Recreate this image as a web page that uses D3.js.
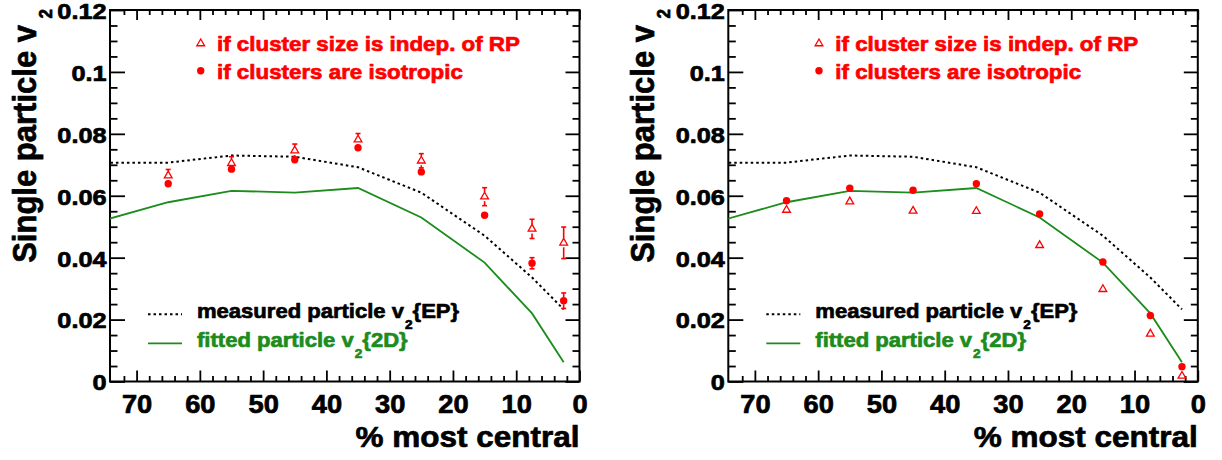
<!DOCTYPE html>
<html>
<head>
<meta charset="utf-8">
<script src="https://cdn.jsdelivr.net/npm/d3@7"></script>
<style>
  body { margin: 0; background: #fff; }
  text { font-family: "Liberation Sans", Arial, sans-serif; font-weight: bold; stroke-width: 0.7px; stroke-linejoin: round; }
</style>
</head>
<body>
<script>
// centrality bins (% most central)
const centrality = [65, 55, 45, 35, 25, 15, 7.5, 2.5];
const curveCentrality = [75, 65, 55, 45, 35, 25, 15, 7.5, 2.5];

// curves, same in both panels
const measuredEP = [0.0707, 0.0707, 0.0730, 0.0726, 0.0692, 0.0610, 0.0471, 0.0336, 0.0233];
const fitted2D = [0.0522, 0.0579, 0.0616, 0.0610, 0.0625, 0.0530, 0.0384, 0.0220, 0.0062];

// left panel points
const sizeIndepLeft = [0.0665, 0.0705, 0.0746, 0.0781, 0.0713, 0.0597, 0.0493, 0.0448];
const sizeIndepLeftErr = [0.0020, 0.0021, 0.0021, 0.0020, 0.0023, 0.0029, 0.0031, 0.0051];
const isotropicLeft = [0.0639, 0.0686, 0.0716, 0.0755, 0.0677, 0.0537, 0.0382, 0.0261];
const isotropicLeftErr = [0.0008, 0.0008, 0.0009, 0.0010, 0.0010, 0.0012, 0.0018, 0.0025];

// right panel points
const sizeIndepRight = [0.0554, 0.0581, 0.0551, 0.0550, 0.0440, 0.0298, 0.0154, 0.0018];
const sizeIndepRightErr = [0.0004, 0.0004, 0.0004, 0.0004, 0.0005, 0.0005, 0.0006, 0.0016];
const isotropicRight = [0.0584, 0.0624, 0.0618, 0.0639, 0.0541, 0.0386, 0.0213, 0.0048];
const isotropicRightErr = [0.0004, 0.0004, 0.0004, 0.0004, 0.0005, 0.0005, 0.0006, 0.0008];

// ticks
const xTickValues = [70, 60, 50, 40, 30, 20, 10, 0];
const xTickLabels = ["70", "60", "50", "40", "30", "20", "10", "0"];
const yTickValues = [0, 0.02, 0.04, 0.06, 0.08, 0.1, 0.12];
const yTickLabels = ["0", "0.02", "0.04", "0.06", "0.08", "0.1", "0.12"];

const RED = "#ff0000", GREEN = "#1c8c1c";

const svg = d3.select("body").append("svg")
  .attr("width", 1222)
  .attr("height", 460);

function stretchText(g, x, y, str, size, sx, anchor, fill) {
  return g.append("text")
    .attr("transform", `translate(${x},${y}) scale(${sx},1)`)
    .attr("text-anchor", anchor)
    .attr("font-size", size)
    .attr("fill", fill).attr("stroke", fill)
    .text(str);
}

function drawPanel(left, id, triVals, triErr, dotVals, dotErr) {
  const top = 10, bottom = 381.5, width = 469.5;
  const x = d3.scaleLinear().domain([74.2, 0]).range([left, left + width]);
  const y = d3.scaleLinear().domain([0, 0.12]).range([bottom, top]);
  const g = svg.append("g");

  g.append("clipPath").attr("id", id)
    .append("rect").attr("x", left).attr("y", top)
    .attr("width", width).attr("height", bottom - top);

  const xMinor = d3.range(2, 74, 2).filter(d => d % 10 !== 0);
  const yMinor = d3.range(0.005, 0.12, 0.005).filter(d => Math.abs(d / 0.02 - Math.round(d / 0.02)) > 1e-6);

  // bottom axis with labels
  const bAxis = g.append("g").attr("transform", `translate(0,${bottom})`)
    .call(d3.axisBottom(x).tickValues(xTickValues)
      .tickFormat((d, i) => xTickLabels[i]).tickSize(-11).tickPadding(13.5));
  bAxis.selectAll("text").attr("font-size", 25.5).attr("fill", "#000").attr("stroke", "#000")
    .attr("transform", "scale(1.07,1)");
  g.append("g").attr("transform", `translate(0,${bottom})`)
    .call(d3.axisBottom(x).tickValues(xMinor).tickFormat("").tickSize(-5.5));

  // top axis
  g.append("g").attr("transform", `translate(0,${top})`)
    .call(d3.axisTop(x).tickValues(xTickValues).tickFormat("").tickSize(-10));
  g.append("g").attr("transform", `translate(0,${top})`)
    .call(d3.axisTop(x).tickValues(xMinor).tickFormat("").tickSize(-5));

  // left axis with labels
  const lAxis = g.append("g").attr("transform", `translate(${left},0)`)
    .call(d3.axisLeft(y).tickValues(yTickValues)
      .tickFormat((d, i) => yTickLabels[i]).tickSize(-15).tickPadding(3));
  lAxis.selectAll("text").attr("font-size", 22).attr("fill", "#000").attr("stroke", "#000")
    .attr("dy", "0.38em").attr("transform", "scale(1.15,1)");
  g.append("g").attr("transform", `translate(${left},0)`)
    .call(d3.axisLeft(y).tickValues(yMinor).tickFormat("").tickSize(-7.5));

  // right axis
  g.append("g").attr("transform", `translate(${left + width},0)`)
    .call(d3.axisRight(y).tickValues(yTickValues).tickFormat("").tickSize(-14));
  g.append("g").attr("transform", `translate(${left + width},0)`)
    .call(d3.axisRight(y).tickValues(yMinor).tickFormat("").tickSize(-7));

  g.selectAll(".domain").remove();
  g.selectAll(".tick line").attr("stroke", "#000").attr("stroke-width", 1.8);

  // frame
  g.append("rect").attr("x", left).attr("y", top)
    .attr("width", width).attr("height", bottom - top)
    .attr("fill", "none").attr("stroke", "#000").attr("stroke-width", 2);

  // curves
  const line = d3.line().x((d, i) => x(curveCentrality[i])).y(d => y(d));
  const curves = g.append("g").attr("clip-path", `url(#${id})`);
  curves.append("path").datum(measuredEP)
    .attr("fill", "none").attr("stroke", "#000").attr("stroke-width", 2)
    .attr("stroke-dasharray", "2.5,3").attr("d", line);
  curves.append("path").datum(fitted2D)
    .attr("fill", "none").attr("stroke", GREEN).attr("stroke-width", 1.8)
    .attr("d", line);

  // error bars, drawn outside the marker
  function errBars(vals, errs, half) {
    vals.forEach((v, i) => {
      const cx = x(centrality[i]), cy = y(v);
      const yt = y(v + errs[i]), yb = y(v - errs[i]);
      [[cy - half, yt], [cy + half, yb]].forEach(([from, to]) => {
        if (Math.abs(to - cy) > half + 0.5) {
          g.append("line").attr("x1", cx).attr("x2", cx).attr("y1", from).attr("y2", to)
            .attr("stroke", RED).attr("stroke-width", 1.6);
          g.append("line").attr("x1", cx - 2.5).attr("x2", cx + 2.5).attr("y1", to).attr("y2", to)
            .attr("stroke", RED).attr("stroke-width", 1.6);
        }
      });
    });
  }
  errBars(triVals, triErr, 4.5);
  errBars(dotVals, dotErr, 3.6);

  const tri = d3.symbol(d3.symbolTriangle, 26);
  g.append("g").selectAll("path").data(triVals).join("path")
    .attr("transform", (d, i) => `translate(${x(centrality[i])},${y(d)})`)
    .attr("d", tri).attr("fill", "none").attr("stroke", RED).attr("stroke-width", 1.3);
  g.append("g").selectAll("circle").data(dotVals).join("circle")
    .attr("cx", (d, i) => x(centrality[i])).attr("cy", d => y(d))
    .attr("r", 3.7).attr("fill", RED);

  // top legend
  g.append("path").attr("transform", `translate(${left + 90.7},${43.5})`)
    .attr("d", tri).attr("fill", "none").attr("stroke", RED).attr("stroke-width", 1.3);
  g.append("circle").attr("cx", left + 90.7).attr("cy", 70.7).attr("r", 3.7).attr("fill", RED);
  stretchText(g, left + 107, 51, "if cluster size is indep. of RP", 20.5, 1.09, "start", RED);
  stretchText(g, left + 107, 78.5, "if clusters are isotropic", 20.5, 1.09, "start", RED);

  // bottom legend
  g.append("line").attr("x1", left + 38).attr("x2", left + 72).attr("y1", 314.3).attr("y2", 314.3)
    .attr("stroke", "#000").attr("stroke-width", 2).attr("stroke-dasharray", "2.5,3");
  g.append("line").attr("x1", left + 38).attr("x2", left + 72).attr("y1", 343.3).attr("y2", 343.3)
    .attr("stroke", GREEN).attr("stroke-width", 1.8);
  const t1 = stretchText(g, left + 87, 318, "measured particle v", 21, 1.05, "start", "#000");
  t1.append("tspan").attr("font-size", 13).attr("dx", 1).attr("dy", 11).text("2");
  t1.append("tspan").attr("dx", 0).attr("dy", -11).text("{EP}");
  const t2 = stretchText(g, left + 87, 346.8, "fitted particle v", 21, 1.05, "start", GREEN);
  t2.append("tspan").attr("font-size", 13).attr("dx", 1).attr("dy", 11).text("2");
  t2.append("tspan").attr("dx", 0).attr("dy", -11).text("{2D}");

  // axis titles
  stretchText(g, left + width, 446.5, "% most central", 30, 1.05, "end", "#000");
  const yt = g.append("text")
    .attr("transform", `translate(${left - 74},9) rotate(-90) scale(0.94,1)`)
    .attr("text-anchor", "end").attr("font-size", 33).attr("fill", "#000").attr("stroke", "#000")
    .text("Single particle v");
  yt.append("tspan").attr("font-size", 18).attr("dx", 7).attr("dy", 16).text("2");
}

drawPanel(110, "clipL", sizeIndepLeft, sizeIndepLeftErr, isotropicLeft, isotropicLeftErr);
drawPanel(728.3, "clipR", sizeIndepRight, sizeIndepRightErr, isotropicRight, isotropicRightErr);
</script>
</body>
</html>
